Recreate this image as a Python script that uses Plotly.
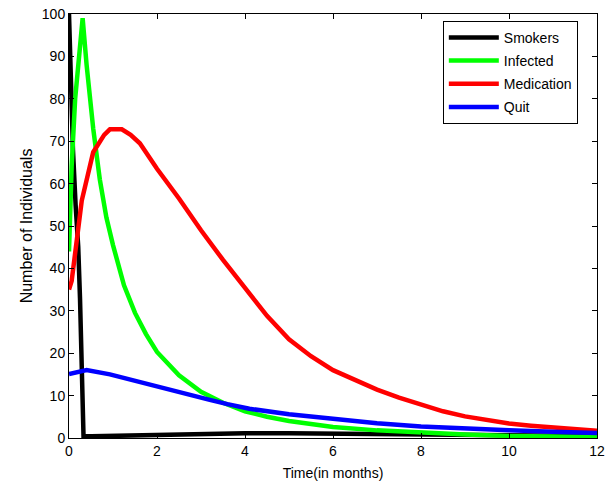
import plotly.graph_objects as go

# ---- data ----
t_smokers = [0, 0.04, 0.09, 0.15, 0.21, 0.25, 0.29, 0.33, 0.5, 1, 1.5, 2, 3, 4, 5, 6, 7, 8, 9, 10, 11, 12]
smokers = [100, 85, 68, 55, 45, 33, 18, 0.4, 0.4, 0.5, 0.7, 0.8, 1.0, 1.1, 1.1, 1.0, 0.9, 0.8, 0.7, 0.6, 0.5, 0.5]

t_infected = [0, 0.06, 0.14, 0.31, 0.4, 0.55, 0.7, 0.85, 1.0, 1.25, 1.5, 1.75, 2.0, 2.5, 3.0, 3.5,
              4.0, 4.5, 5, 6, 7, 8, 9, 10, 11, 12]
infected = [44, 64, 80, 99, 88, 73, 61, 52, 45.5, 36, 29.5, 24.5, 20.3, 14.8, 10.9, 8.3,
            6.3, 5.0, 4.0, 2.6, 1.8, 1.2, 0.8, 0.5, 0.35, 0.25]

t_medication = [0, 0.06, 0.29, 0.55, 0.8, 0.93, 1.2, 1.4, 1.61, 2.0, 2.5, 3.0, 3.5, 4.0,
                4.5, 5.0, 5.5, 6.0, 6.5, 7.0, 7.5, 8.0, 8.5, 9.0, 9.5, 10, 10.5, 11, 11.5, 12]
medication = [35, 37, 56, 67.4, 71.5, 72.8, 72.8, 71.5, 69.5, 63.5, 56.5, 49.0, 42.0, 35.3,
              28.8, 23.3, 19.3, 16.0, 13.6, 11.4, 9.5, 7.8, 6.3, 5.1, 4.2, 3.4, 2.9, 2.5, 2.1, 1.7]

t_quit = [0, 0.4, 0.93, 1.3, 1.69, 2.1, 2.45, 2.8, 3.2, 3.6, 4.1, 5, 6, 7, 8, 9, 10, 11, 12]
quit_ = [15.1, 16.0, 15.0, 14.0, 12.9, 11.7, 10.9, 10.0, 9.0, 8.0, 6.9, 5.6, 4.5, 3.5, 2.7, 2.2, 1.8, 1.5, 1.2]

series = [
    ("Smokers", t_smokers, smokers, "#000000"),
    ("Infected", t_infected, infected, "#00ff00"),
    ("Medication", t_medication, medication, "#ff0000"),
    ("Quit", t_quit, quit_, "#0000ff"),
]

x_ticks = [0, 2, 4, 6, 8, 10, 12]
y_ticks = [0, 10, 20, 30, 40, 50, 60, 70, 80, 90, 100]

FONT = "Liberation Sans, Arial, sans-serif"

fig = go.Figure()
for name, tx, vy, col in series:
    fig.add_trace(go.Scatter(x=tx, y=vy, mode="lines", name=name, legendgroup=name,
                             line=dict(color=col, width=4.5)))

axis_common = dict(
    showgrid=False, zeroline=False, showline=True, linecolor="black", linewidth=1,
    mirror="allticks", ticks="inside", ticklen=5, tickcolor="black", tickwidth=1,
    tickfont=dict(family=FONT, size=14, color="black"), automargin=False,
)

fig.update_layout(
    width=611, height=486,
    margin=dict(l=69, r=14, t=14, b=48),
    paper_bgcolor="white", plot_bgcolor="white",
    font=dict(family=FONT, size=14, color="black"),
    xaxis=dict(range=[0, 12], tickvals=x_ticks, ticktext=[str(v) for v in x_ticks],
               title=dict(text="Time(in months)", standoff=10, font=dict(size=14)), **axis_common),
    yaxis=dict(range=[0, 100], tickvals=y_ticks, ticktext=[str(v) for v in y_ticks],
               title=dict(text="Number of Individuals", standoff=5, font=dict(size=16)), **axis_common),
    legend=dict(x=0.708, y=0.984, xanchor="left", yanchor="top",
                bgcolor="white", bordercolor="black", borderwidth=1,
                font=dict(family=FONT, size=14, color="black"),
                tracegroupgap=2, itemwidth=50),
    showlegend=True,
)

fig.write_html("out.html", config={"displayModeBar": False},
               post_script="document.body.style.margin='0';")
